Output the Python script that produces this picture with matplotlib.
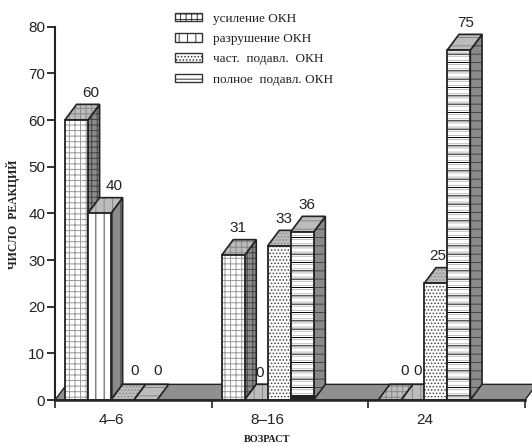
import matplotlib
matplotlib.use('Agg')
import matplotlib.pyplot as plt
from matplotlib.patches import Patch, Polygon

plt.rcParams['font.family'] = ['Liberation Sans', 'DejaVu Sans']
plt.rcParams['hatch.linewidth'] = 0.7

groups = ['4–6', '8–16', '24']
series = ['усиление ОКН', 'разрушение ОКН', 'част.  подавл.  ОКН', 'полное  подавл. ОКН']
usilenie = [60, 31, 0]
razrushenie = [40, 0, 0]
chast = [0, 33, 25]
polnoe = [0, 36, 75]
values = [usilenie, razrushenie, chast, polnoe]
hatches = ['+++', '||', '.....', '--']
front_hatch_col = ['#999999', '#444444', '#444444', '#bbbbbb']

group_pos = [0.357, 1.357, 2.357]
bar_w = 0.147
dx = 0.0747
dy = 3.36
# nudges of the value labels (x in axis units, y in data units), as the picture has them
label_nudge = {(0, 0): (0.02, 0), (1, 0): (0.02, 0), (2, 0): (0.005, 0.4), (3, 0): (0.005, 0.4),
               (0, 1): (-0.045, 0), (1, 1): (-0.05, 0), (2, 1): (-0.045, 0), (3, 1): (-0.045, 0),
               (0, 2): (0.02, 0.4), (1, 2): (-0.045, 0.4), (2, 2): (-0.06, 0), (3, 2): (-0.03, 0)}


def draw_bar(ax, x, val, hatch, s, g):
    front = ax.bar(x, val, bar_w, align='edge', color='white', edgecolor=front_hatch_col[s],
                   hatch=hatch if hatch != '--' else '----', linewidth=0, zorder=3 + s + 4 * g)
    z = front[0].get_zorder()
    if val > 0:
        side = [(x + bar_w, 0), (x + bar_w + dx, dy), (x + bar_w + dx, val + dy), (x + bar_w, val)]
        ax.add_patch(Polygon(side, closed=True, facecolor='#8a8a8a', edgecolor='#444444',
                             hatch=hatch, linewidth=0, zorder=z - 0.5))
        ax.add_patch(Polygon(side, closed=True, fill=False, edgecolor='#222222',
                             linewidth=1.2, zorder=z - 0.4))
    top = [(x, val), (x + dx, val + dy), (x + bar_w + dx, val + dy), (x + bar_w, val)]
    ax.add_patch(Polygon(top, closed=True, facecolor='#bcbcbc', edgecolor='#888888',
                         hatch=hatch, linewidth=0, zorder=z - 0.3))
    ax.add_patch(Polygon(top, closed=True, fill=False, edgecolor='#222222',
                         linewidth=1.2, zorder=z - 0.2))
    if val > 0:
        if hatch == '--':
            ax.bar(x, val, bar_w, align='edge', color='none', edgecolor='black',
                   hatch='--', linewidth=0, zorder=z + 0.1)
        ax.bar(x, val, bar_w, align='edge', color='none', edgecolor='#222222',
               linewidth=1.3, zorder=z + 0.2)
    nx, ny = label_nudge[(s, g)]
    ax.text(x + bar_w / 2 + dx + nx, val + dy + 0.9 + ny, str(val), ha='center', va='bottom',
            fontsize=11, color='#222222', zorder=40)


fig = plt.figure(figsize=(5.32, 4.47), dpi=100)
ax = fig.add_axes([55 / 532, 47 / 447, 470 / 532, 373.3 / 447])
ax.set_xlim(0, 3)
ax.set_ylim(0, 80)

floor = [(0, 0), (dx, dy), (3 + dx, dy), (3, 0)]
ax.add_patch(Polygon(floor, closed=True, facecolor='#8f8f8f', edgecolor='#222222',
                     linewidth=1.0, clip_on=False, zorder=1))

for g, pos in enumerate(group_pos):
    for s in range(4):
        x = pos - 2 * bar_w + s * bar_w
        draw_bar(ax, x, values[s][g], hatches[s], s, g)

# dark foot of the last bar in the middle group
ax.bar(group_pos[1] + bar_w, 1, bar_w, align='edge', color='#222222', zorder=30)

for side in ['top', 'right']:
    ax.spines[side].set_visible(False)
ax.spines['left'].set_linewidth(1.5)
ax.spines['bottom'].set_linewidth(1.8)
ax.spines['left'].set_zorder(35)
ax.spines['bottom'].set_zorder(35)
ax.spines['bottom'].set_color('#222222')
ax.spines['left'].set_color('#222222')

ax.set_yticks(range(0, 81, 10))
ax.tick_params(axis='y', length=6, width=1.3, labelsize=11, pad=1, color='#222222', labelcolor='#222222')
ax.set_xticks(group_pos)
ax.set_xticklabels(groups)
ax.tick_params(axis='x', length=0, labelsize=11, pad=9, labelcolor='#222222')
ax.set_xticks([0, 1, 2, 3], minor=True)
ax.tick_params(axis='x', which='minor', length=6, width=1.2, color='#222222')

fig.text(267 / 532, 1 - 439.5 / 447, 'ВОЗРАСТ', family='Liberation Serif', weight='bold',
         fontsize=7.5, ha='center', va='center', color='#222222')
fig.text(13 / 532, 1 - 214 / 447, 'ЧИСЛО  РЕАКЦИЙ', family='Liberation Serif', weight='bold',
         fontsize=8.5, rotation=90, ha='center', va='center', color='#222222')

handles = [Patch(facecolor='white', edgecolor='#333333', hatch=h, linewidth=1.0) for h in hatches]
fig.legend(handles, series, loc='upper left', bbox_to_anchor=(164 / 532, 1 - 2 / 447),
           frameon=False, prop={'family': 'Liberation Serif', 'size': 9.5},
           handlelength=2.05, handleheight=0.65, handletextpad=0.83, labelspacing=0.63,
           borderpad=0.3, labelcolor='#222222')

fig.savefig('out.png', dpi=100)
